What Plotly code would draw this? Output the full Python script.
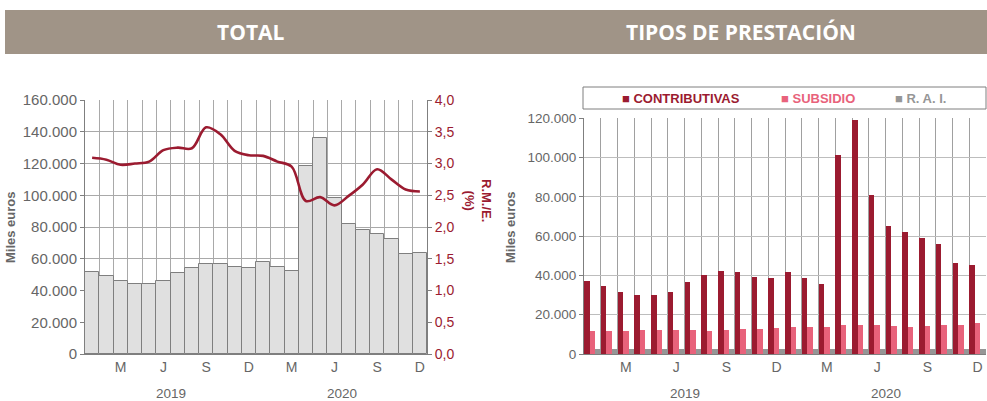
import plotly.graph_objects as go

W, H = 987, 401

# ---------------- data ----------------
years = [2019] * 12 + [2020] * 12
month_num = list(range(1, 13)) * 2
tick_month_text = {3: "M", 6: "J", 9: "S", 12: "D"}

total = [51.4, 49.0, 45.7, 44.2, 44.2, 46.1, 51.2, 54.3, 56.8, 56.8, 55.0, 54.1,
         58.1, 55.0, 52.0, 118.7, 136.2, 98.1, 81.9, 78.3, 75.8, 72.6, 63.2, 63.6]
total = [v * 1000 for v in total]

rme = [3.09, 3.06, 2.98, 3.00, 3.03, 3.21, 3.25, 3.24, 3.57, 3.46, 3.20, 3.13,
       3.12, 3.03, 2.95, 2.41, 2.47, 2.34, 2.49, 2.67, 2.91, 2.75, 2.59, 2.56]

contributivas = [37.2, 34.6, 31.6, 29.7, 29.7, 31.6, 36.7, 39.9, 42.3, 41.6, 39.2, 38.4,
                 41.8, 38.4, 35.7, 101.4, 119.2, 81.0, 65.2, 62.1, 59.1, 55.9, 46.0, 45.3]
subsidio = [11.4, 11.4, 11.4, 11.9, 11.9, 11.9, 11.9, 11.5, 12.2, 12.6, 12.7, 12.9,
            13.8, 13.8, 13.8, 14.8, 14.6, 14.4, 14.1, 13.6, 14.1, 14.6, 14.6, 15.5]
rai = [2.4] * 24
contributivas = [v * 1000 for v in contributivas]
subsidio = [v * 1000 for v in subsidio]
rai = [v * 1000 for v in rai]

series_names = ["CONTRIBUTIVAS", "SUBSIDIO", "R. A. I."]

# ---------------- styles ----------------
RED = "#9b1b30"
PINK = "#e8627b"
GREY = "#969696"
TXT = "#666666"
GRID = "#a9a9a9"
FONT = "Liberation Sans, Arial, sans-serif"

idx = list(range(len(years)))
tickvals = [i for i in idx if month_num[i] in tick_month_text]
ticktext = [tick_month_text[month_num[i]] for i in tickvals]

def py(y):
    return 1 - y / H

def px(x):
    return x / W

fig = go.Figure()

# Left: total bars + RME line
fig.add_trace(go.Bar(x=idx, y=total, xaxis="x", yaxis="y",
                     marker=dict(color="#e0e0e0", line=dict(color="#7f7f7f", width=1)),
                     showlegend=False))
fig.add_trace(go.Scatter(x=idx, y=rme, xaxis="x", yaxis="y2", mode="lines",
                         line=dict(color=RED, width=2.6, shape="spline", smoothing=1.0),
                         showlegend=False))

# Right: grouped bars
for name, vals, col in zip(series_names, [contributivas, subsidio, rai], [RED, PINK, GREY]):
    fig.add_trace(go.Bar(x=idx, y=vals, name=name, xaxis="x2", yaxis="y3",
                         marker=dict(color=col, line=dict(width=0)), showlegend=False))

xcommon = dict(range=[-0.5, len(idx) - 0.5], tickmode="array", tickvals=tickvals,
               ticktext=ticktext, showgrid=False, zeroline=False,
               tickfont=dict(family=FONT, size=14, color=TXT), ticks="",
               showline=True, linewidth=1, automargin=False)

fig.update_layout(
    width=W, height=H,
    margin=dict(l=0, r=0, t=0, b=0, pad=0, autoexpand=False),
    showlegend=False,
    paper_bgcolor="white", plot_bgcolor="white",
    separators=",.",
    barmode="group", bargap=0.0, bargroupgap=0.0,
    font=dict(family=FONT, color=TXT),
    xaxis=dict(domain=[px(85), px(427)], anchor="y", linecolor="#7f7f7f",
               minor=dict(tick0=-0.5, dtick=1, showgrid=True, gridcolor=GRID, gridwidth=1),
               **xcommon),
    yaxis=dict(domain=[py(354), py(100)], anchor="x", range=[0, 160000], dtick=20000,
               tickformat=",d", showgrid=True, gridcolor=GRID, gridwidth=1,
               zeroline=False, showline=True, linecolor="#7f7f7f", linewidth=1,
               ticks="outside", ticklen=4, tickcolor="#7f7f7f", automargin=False,
               tickfont=dict(family=FONT, size=15, color=TXT)),
    yaxis2=dict(overlaying="y", side="right", anchor="x", range=[0, 4], dtick=0.5,
                tickformat=".1f", showgrid=False, zeroline=False, showline=True,
                linecolor="#7f7f7f", linewidth=1, ticks="outside", ticklen=4,
                tickcolor="#7f7f7f", automargin=False,
                tickfont=dict(family=FONT, size=14, color=RED)),
    xaxis2=dict(domain=[px(584), px(986)], anchor="y3", linecolor="#7f7f7f",
                minor=dict(tick0=-0.5, dtick=1, showgrid=True, gridcolor="#a0a0a0", gridwidth=1),
                **xcommon),
    yaxis3=dict(domain=[py(354), py(118.3)], anchor="x2", range=[0, 120000], dtick=20000,
                tickformat=",d", showgrid=True, gridcolor="#bdbdbd", gridwidth=1,
                zeroline=False, showline=True, linecolor="#7f7f7f", linewidth=1,
                ticks="outside", ticklen=4, tickcolor="#7f7f7f", automargin=False,
                tickfont=dict(family=FONT, size=13.5, color=TXT)),
)

shapes = [
    # header band
    dict(type="rect", xref="paper", yref="paper", x0=px(5), x1=1, y0=py(54), y1=py(10),
         fillcolor="#a09487", line=dict(width=0), layer="below"),
    # legend box
    dict(type="rect", xref="paper", yref="paper", x0=px(583), x1=px(986), y0=py(109), y1=py(87),
         fillcolor="white", line=dict(color="#7f7f7f", width=1)),
]
fig.update_layout(shapes=shapes)

ann = []
HFONT = "Open Sans, sans-serif"

def note(text, x, y, xref="paper", **kw):
    d = dict(text=text, x=x, y=y, xref=xref, yref="paper", showarrow=False,
             xanchor="center", yanchor="middle")
    d.update(kw)
    ann.append(d)

note("<b>TOTAL</b>", px(251), py(32), font=dict(family=HFONT, size=21, color="white"))
note("<b>TIPOS DE PRESTACIÓN</b>", px(741), py(32), font=dict(family=HFONT, size=21, color="white"))
# axis titles
note("<b>Miles euros</b>", px(10), py(227), textangle=-90, font=dict(family=FONT, size=13, color=TXT))
note("<b>Miles euros</b>", px(510), py(227), textangle=-90, font=dict(family=FONT, size=13, color=TXT))
note("<b>R.M./E.</b><br><b>(%)</b>", px(478), py(200), textangle=90,
     font=dict(family=FONT, size=13, color=RED))
# year labels
for xa in ["x", "x2"]:
    for yr in sorted(set(years)):
        pos = [i for i in idx if years[i] == yr]
        note(str(yr), (pos[0] + pos[-1]) / 2, py(393), xref=xa,
             font=dict(family=FONT, size=13.5, color=TXT))
# legend
for name, col, xl in zip(series_names, [RED, PINK, GREY], [620, 779, 893]):
    note(f"■ <b>{name}</b>", px(xl), py(98), xanchor="left",
         font=dict(family=FONT, size=13, color=col))
fig.update_layout(annotations=ann)

fig.write_html("out.html", config={"displayModeBar": False},
               post_script="document.body.style.margin='0px';")
